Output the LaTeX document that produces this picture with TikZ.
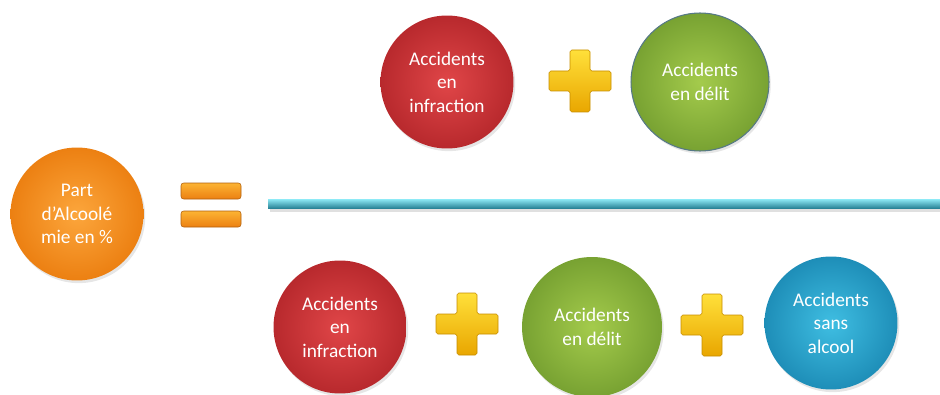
\documentclass[tikz,border=0pt]{standalone}
\usepackage{fontspec}
\setmainfont{Carlito}
\usetikzlibrary{shadows}

\definecolor{orangeIn}{HTML}{FCA63C}
\definecolor{orangeOut}{HTML}{EC8012}
\definecolor{redIn}{HTML}{E04648}
\definecolor{redOut}{HTML}{B8292D}
\definecolor{greenIn}{HTML}{A4CB4C}
\definecolor{greenOut}{HTML}{78A232}
\definecolor{blueIn}{HTML}{3FBEE2}
\definecolor{blueOut}{HTML}{1E8EB8}
\definecolor{goldTop}{HTML}{FFE03A}
\definecolor{goldBot}{HTML}{E9A600}
\definecolor{barTop}{HTML}{8EEAF6}
\definecolor{barBot}{HTML}{2A8497}

\begin{document}
\begin{tikzpicture}[x=0.02cm,y=-0.02cm,
   bubble/.style={circle,inner sep=0pt,minimum size=2.66cm,align=center,
    text=white,font=\fontsize{11}{13.4}\selectfont,
    drop shadow={opacity=0.2,shadow xshift=1pt,shadow yshift=-1.5pt}},
   cross/.pic={
     \path[top color=goldTop,bottom color=goldBot,draw=goldBot!85!black,
       line width=0.3pt,rounded corners=1pt]
       (-10,-31) -- (10,-31) -- (10,-10) -- (31,-10) -- (31,10)
       -- (10,10) -- (10,31) -- (-10,31) -- (-10,10) -- (-31,10)
       -- (-31,-10) -- (-10,-10) -- cycle;
   },
   eqbar/.style={top color=orangeIn!85!yellow,bottom color=orangeOut,
    rounded corners=1.5pt,draw=orangeOut!75!black,line width=0.3pt}
    ]
    \useasboundingbox (0,0) rectangle (940,395);

    % left side
    \node[bubble,inner color=orangeIn,outer color=orangeOut] at (77,214) (part)
      {Part\\d'Alcoolé\\mie en \%};
    \path[eqbar] (181,183) rectangle (241,199);
    \path[eqbar] (181,211) rectangle (241,227);

    % numerator
    \node[bubble,inner color=redIn,outer color=redOut] at (447,82) (infrA)
      {Accidents\\en\\infraction};
    \pic at (580,81) {cross};
    \node[bubble,inner color=greenIn,outer color=greenOut,minimum size=2.76cm,
      draw=blueOut!45!black!70,line width=0.6pt] at (700,82) (delitA)
      {Accidents\\en délit};

    % fraction bar
    \coordinate (barL) at (268,199);
    \coordinate (barR) at (940,208);
    \fill[black,opacity=0.12] (270,207) rectangle (940,212);
    \shade[top color=barTop,bottom color=barBot] (barL) rectangle (barR);

    % denominator
    \node[bubble,inner color=redIn,outer color=redOut] at (340,327) (infrB)
      {Accidents\\en\\infraction};
    \pic at (467,324) {cross};
    \node[bubble,inner color=greenIn,outer color=greenOut,minimum size=2.8cm]
      at (592,327) (delitB) {Accidents\\en délit};
    \pic at (712,325) {cross};
    \node[bubble,inner color=blueIn,outer color=blueOut] at (831,323) (sans)
      {Accidents\\sans\\alcool};

\end{tikzpicture}
\end{document}
